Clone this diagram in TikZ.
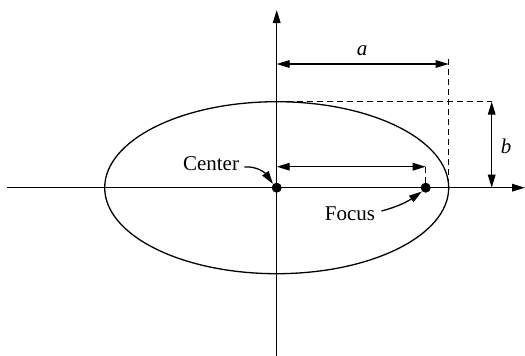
\documentclass[tikz,border=0pt]{standalone}
\usepackage{fontspec}
\setmainfont{Liberation Serif}
\usetikzlibrary{arrows.meta,calc}
\begin{document}
\begin{tikzpicture}[x=0.5pt,y=-0.5pt,
  ln/.style={line width=0.65pt},
  tip/.style={-{Triangle[length=6.5pt,width=3.8pt]}},
  dtip/.style={{Triangle[length=6.5pt,width=3.8pt]}-{Triangle[length=6.5pt,width=3.8pt]}},
  dsh/.style={line width=0.6pt,dash pattern=on 3pt off 2pt},
  lbl/.style={font=\fontsize{10.5}{12}\selectfont,inner sep=0pt},
  dot/.style={circle,fill=black,inner sep=0pt,minimum size=5pt}]
\useasboundingbox (0,0) rectangle (525,355);
% key points
\coordinate (O) at (276.7,187.7);
\coordinate (xl) at (7,187.7);
\coordinate (xr) at (525,187.7);
\coordinate (yb) at (276.7,356);
\coordinate (yt) at (276.7,10);
\coordinate (F) at (425.7,187.7);
% axes
\draw[ln,tip] (xl) -- (xr);
\draw[ln,tip] (yb) -- (yt);
% ellipse
\draw[ln] (O) ellipse [x radius=172, y radius=86];
% a dimension
\coordinate (a1) at (276.7,64);
\coordinate (a2) at (448.7,64);
\coordinate (ad) at (448.7,59);
\coordinate (ax) at (448.7,187.7);
\draw[ln,dtip] (a1) -- (a2);
\draw[dsh] (ad) -- (ax);
\node[lbl] (la) at (362,51) {\itshape a};
% b dimension
\coordinate (top) at (276.7,101.7);
\coordinate (br) at (492,101.7);
\coordinate (b1) at (491.7,101.7);
\coordinate (b2) at (491.7,187.7);
\draw[dsh] (top) -- (br);
\draw[ln,dtip] (b1) -- (b2);
\node[lbl] (lb) at (506,146) {\itshape b};
% focus distance
\coordinate (c1) at (276.7,166.7);
\coordinate (c2) at (425.7,166.7);
\draw[ln,dtip] (c1) -- (c2);
\draw[dsh] (c2) -- (F);
% points
\node[dot] (center) at (O) {};
\node[dot] (focus) at (F) {};
% labels
\node[lbl] (lc) at (211,164) {Center};
\node[lbl] (lf) at (350,214) {Focus};
\draw[ln,tip] (lc.east) ++(5,3) to[out=5,in=125] (center.north west);
\draw[ln,tip] (lf.east) ++(6,-3) to[out=15,in=215] (focus.south west);
\end{tikzpicture}
\end{document}
